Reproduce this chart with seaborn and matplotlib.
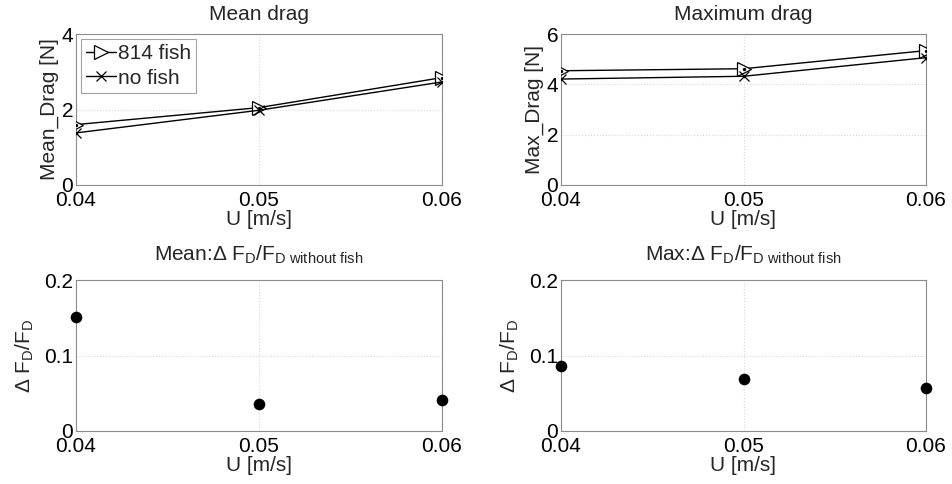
import numpy as np
import pandas as pd
import matplotlib
matplotlib.use("Agg")
import matplotlib.pyplot as plt
import seaborn as sns
from matplotlib.ticker import FuncFormatter

# data
U = [0.04, 0.05, 0.06]
mean_fish = [1.60, 2.05, 2.845]
mean_nofish = [1.38, 1.98, 2.73]
max_fish = [4.54, 4.62, 5.34]
max_nofish = [4.21, 4.32, 5.06]
mean_rel = [0.1506, 0.0358, 0.0415]
max_rel = [0.0865, 0.0693, 0.057]

sns.set_theme(style="white")
plt.rcParams["font.family"] = ["Liberation Sans", "DejaVu Sans"]
plt.rcParams["mathtext.fontset"] = "custom"
plt.rcParams["mathtext.rm"] = "Liberation Sans"
plt.rcParams["mathtext.it"] = "Liberation Sans"
plt.rcParams["mathtext.default"] = "regular"

FS = 15
fig = plt.figure(figsize=(9.53, 4.84), dpi=100)
W, H = 953, 484


def make_ax(x0, y0, x1, y1):
    return fig.add_axes([x0 / W, 1 - y1 / H, (x1 - x0) / W, (y1 - y0) / H])


def style(ax, yticks, ylim, title, ylabel, fmt=None):
    ax.set_xlim(0.04, 0.06)
    ax.set_ylim(*ylim)
    ax.set_xticks(U)
    ax.set_xticklabels(["0.04", "0.05", "0.06"])
    ax.set_yticks(yticks)
    if fmt:
        ax.yaxis.set_major_formatter(FuncFormatter(fmt))
    ax.grid(True, color="#d8d8d8", linestyle=":", linewidth=0.8)
    for s in ax.spines.values():
        s.set_color("#8c8c8c")
        s.set_linewidth(0.8)
    ax.tick_params(direction="in", length=3, color="#8c8c8c", labelsize=FS,
                   pad=2, labelcolor="black")
    ax.tick_params(axis="x", pad=4)
    ax.set_title(title, fontsize=FS, pad=10)
    ax.set_ylabel(ylabel, fontsize=FS, labelpad=2)
    ax.set_xlabel("U [m/s]", fontsize=FS, labelpad=0)


def rel_fmt(v, p):
    return "0" if abs(v) < 1e-9 else f"{v:.1f}"


ax1 = make_ax(76, 34, 442, 185)
ax2 = make_ax(561, 34, 926, 185)
ax3 = make_ax(76, 280, 442, 431)
ax4 = make_ax(561, 280, 926, 431)

for ax, fish, nofish in [(ax1, mean_fish, mean_nofish), (ax2, max_fish, max_nofish)]:
    sns.lineplot(x=U, y=fish, ax=ax, color="black", linewidth=1, marker=">",
                 markersize=10, markerfacecolor="white", markeredgecolor="black",
                 markeredgewidth=0.9, label="814 fish", zorder=3)
    sns.lineplot(x=U, y=nofish, ax=ax, color="black", linewidth=1, marker="x",
                 markersize=7, markeredgecolor="black", markeredgewidth=0.9,
                 label="no fish", zorder=3)
    sns.scatterplot(x=U, y=fish, ax=ax, color="black", s=6, linewidth=0, zorder=4)
    sns.scatterplot(x=U, y=nofish, ax=ax, color="black", s=6, linewidth=0, zorder=4)

style(ax1, [0, 2, 4], (0, 4), "Mean drag", "Mean_Drag [N]")
style(ax2, [0, 2, 4, 6], (0, 6), "Maximum drag", "Max_Drag [N]")

leg = ax1.legend(loc="upper left", fontsize=FS, frameon=True, fancybox=False,
                 handlelength=1.4, handletextpad=0.1, borderpad=0.25,
                 labelspacing=0.25, borderaxespad=0.25)
leg.get_frame().set_edgecolor("#8c8c8c")
leg.get_frame().set_linewidth(0.8)
if ax2.get_legend():
    ax2.get_legend().remove()

sns.scatterplot(x=U, y=mean_rel, ax=ax3, color="black", s=70, linewidth=0,
                zorder=3, clip_on=False)
sns.scatterplot(x=U, y=max_rel, ax=ax4, color="black", s=70, linewidth=0,
                zorder=3, clip_on=False)

ylab = r"$\Delta$ F$_D$/F$_D$"
style(ax3, [0, 0.1, 0.2], (0, 0.2), r"Mean:$\Delta$ F$_D$/F$_{D\ without\ fish}$",
      ylab, rel_fmt)
style(ax4, [0, 0.1, 0.2], (0, 0.2), r"Max:$\Delta$ F$_D$/F$_{D\ without\ fish}$",
      ylab, rel_fmt)
ax3.set_title(ax3.get_title(), fontsize=FS, pad=14)
ax4.set_title(ax4.get_title(), fontsize=FS, pad=14)
ax3.yaxis.labelpad = 6
ax4.yaxis.labelpad = 6

fig.savefig("out.png", dpi=100, facecolor="white")
